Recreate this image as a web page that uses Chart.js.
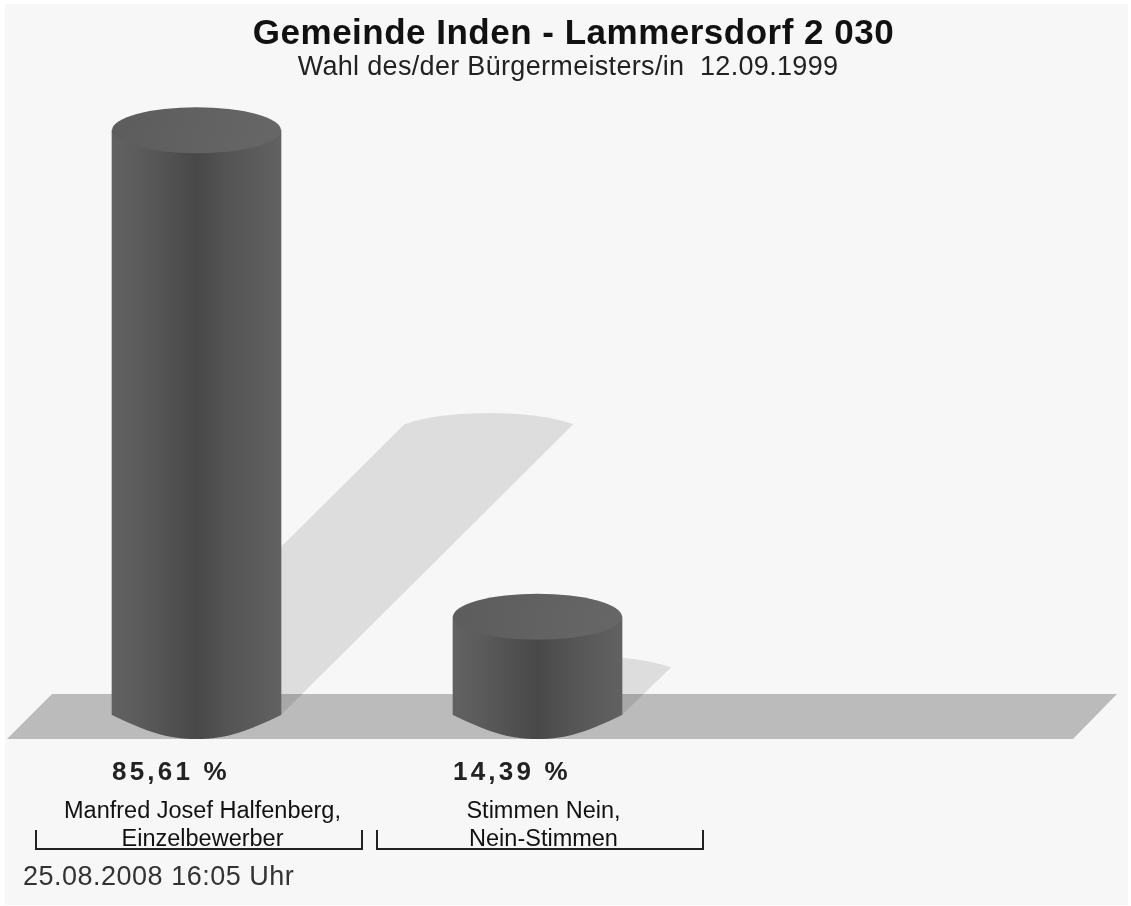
<!DOCTYPE html>
<html>
<head>
<meta charset="utf-8">
<title>Gemeinde Inden - Lammersdorf</title>
<script src="https://cdn.jsdelivr.net/npm/chart.js@4/dist/chart.umd.min.js"></script>
<style>
  html, body { margin: 0; padding: 0; background: #fff; }
  #wrap { position: absolute; left: 0; top: 0; width: 1131px; height: 906px; }
</style>
</head>
<body>
<div id="wrap"><canvas id="myChart"></canvas></div>
<script>
const categories = [['Manfred Josef Halfenberg,', 'Einzelbewerber'], ['Stimmen Nein,', 'Nein-Stimmen']];
const percentValues = [85.61, 14.39];
const chartTitle = 'Gemeinde Inden - Lammersdorf 2 030';
const chartSubtitle = 'Wahl des/der Bürgermeisters/in  12.09.1999';
const footerText = '25.08.2008 16:05 Uhr';

const FONT = '"Liberation Sans", Arial, sans-serif';

function sideGradient(ctx, left, right) {
  const g = ctx.createLinearGradient(left, 0, right, 0);
  g.addColorStop(0, '#616161');
  g.addColorStop(0.15, '#5c5c5c');
  g.addColorStop(0.5, '#484848');
  g.addColorStop(0.7, '#555555');
  g.addColorStop(1, '#616161');
  return g;
}

function text(ctx, str, x, y, font, color, align, spacing) {
  ctx.font = font;
  ctx.fillStyle = color;
  ctx.textAlign = align;
  ctx.textBaseline = 'middle';
  ctx.letterSpacing = spacing || '0px';
  ctx.fillText(str, x, y);
  ctx.letterSpacing = '0px';
}

// floor, shadows and the page texts go under the bars, caps on top of them
const cylinderPlugin = {
  id: 'cylinders',
  beforeDraw(chart) {
    const ctx = chart.ctx;
    ctx.save();
    ctx.fillStyle = '#f7f7f7';
    ctx.fillRect(5, 4, 1123, 901);
    text(ctx, chartTitle, 573.5, 34, 'bold 35px ' + FONT, '#111', 'center', '0.5px');
    text(ctx, chartSubtitle, 568, 68, '27px ' + FONT, '#222', 'center', '0.32px');
    text(ctx, footerText, 23, 878, '27px ' + FONT, '#333', 'left', '0.5px');
    ctx.restore();
  },
  beforeDatasetsDraw(chart) {
    const ctx = chart.ctx;
    const base = chart.scales.y.getPixelForValue(0);
    ctx.save();
    ctx.fillStyle = '#bbbbbb';
    ctx.beginPath();
    ctx.moveTo(7, base + 24);
    ctx.lineTo(52, base - 21);
    ctx.lineTo(1117, base - 21);
    ctx.lineTo(1073, base + 24);
    ctx.closePath();
    ctx.fill();
    // shadow falls back at 45 degrees, half as long as the bar
    ctx.fillStyle = 'rgba(0,0,0,0.1)';
    chart.getDatasetMeta(0).data.forEach((bar) => {
      const rx = bar.width / 2;
      const h = (bar.base - bar.y) / 2;
      const tipY = bar.base - h + 1.5;
      ctx.beginPath();
      ctx.moveTo(bar.x - rx, bar.base);
      ctx.lineTo(bar.x - rx + h, tipY);
      ctx.bezierCurveTo(bar.x - rx / 2 + h, tipY - 14.7, bar.x + rx / 2 + h, tipY - 14.7, bar.x + rx + h, tipY);
      ctx.lineTo(bar.x + rx, bar.base);
      ctx.closePath();
      ctx.fill();
    });
    ctx.restore();
  },
  afterDatasetsDraw(chart) {
    const ctx = chart.ctx;
    ctx.save();
    chart.getDatasetMeta(0).data.forEach((bar, i) => {
      const rx = bar.width / 2;
      const left = bar.x - rx;
      const right = bar.x + rx;
      const w = bar.width;
      // rounded foot
      ctx.fillStyle = sideGradient(ctx, left, right);
      ctx.beginPath();
      ctx.moveTo(left, bar.base - 1);
      ctx.lineTo(left, bar.base);
      ctx.bezierCurveTo(left + 0.2 * w, bar.base + 16, left + 0.32 * w, bar.base + 24, bar.x, bar.base + 24);
      ctx.bezierCurveTo(right - 0.32 * w, bar.base + 24, right - 0.2 * w, bar.base + 16, right, bar.base);
      ctx.lineTo(right, bar.base - 1);
      ctx.closePath();
      ctx.fill();
      // top face
      const top = ctx.createLinearGradient(left, bar.y - 22, right, bar.y + 22);
      top.addColorStop(0, '#5c5c5c');
      top.addColorStop(1, '#676767');
      ctx.fillStyle = top;
      ctx.beginPath();
      ctx.ellipse(bar.x, bar.y, rx, 23, 0, 0, 2 * Math.PI);
      ctx.fill();
      // percent label, left aligned with the bar
      const label = percentValues[i].toFixed(2).replace('.', ',') + ' %';
      text(ctx, label, left, 773, 'bold 26px ' + FONT, '#222', 'left', '3.2px');
      // bracket under the category
      const cx = bar.x + 2.5;
      ctx.strokeStyle = '#222';
      ctx.lineWidth = 2;
      ctx.beginPath();
      ctx.moveTo(cx - 163, 830);
      ctx.lineTo(cx - 163, 849);
      ctx.lineTo(cx + 163, 849);
      ctx.lineTo(cx + 163, 830);
      ctx.stroke();
    });
    ctx.restore();
  }
};

const myChart = new Chart(document.getElementById('myChart').getContext('2d'), {
  type: 'bar',
  data: {
    labels: categories,
    datasets: [{
      data: percentValues,
      barThickness: 169,
      borderWidth: 0,
      backgroundColor: function(context) {
        const x = context.chart.scales.x.getPixelForValue(context.dataIndex);
        if (!isFinite(x)) return '#555555';
        return sideGradient(context.chart.ctx, x - 84.5, x + 84.5);
      }
    }]
  },
  options: {
    responsive: true,
    maintainAspectRatio: false,
    animation: false,
    layout: { padding: { left: 26, right: 423, top: 32, bottom: 0 } },
    plugins: { legend: { display: false }, tooltip: { enabled: false }, title: { display: false } },
    scales: {
      x: {
        grid: { display: false },
        border: { display: false },
        afterFit: function(scale) {
          scale.height = 191;
          // long labels must not push the bars inwards
          scale.paddingLeft = 0;
          scale.paddingRight = 0;
        },
        ticks: {
          padding: 75,
          labelOffset: 6,
          maxRotation: 0,
          autoSkip: false,
          color: '#111',
          font: { family: FONT, size: 23.5, lineHeight: '28px' }
        }
      },
      y: { display: false, min: 0, max: 100 }
    }
  },
  plugins: [cylinderPlugin]
});
</script>
</body>
</html>
